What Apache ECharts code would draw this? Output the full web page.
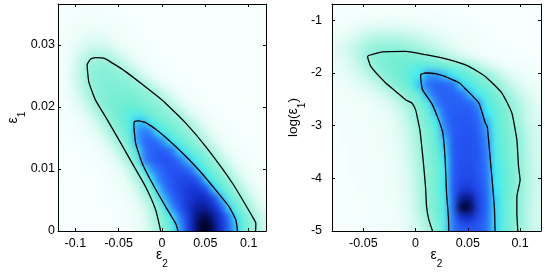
<!DOCTYPE html>
<html><head><meta charset="utf-8">
<script src="https://cdn.jsdelivr.net/npm/echarts@6/dist/echarts.min.js"></script>
<style>
html,body{margin:0;padding:0;background:#fff}
#wrap{position:relative;width:545px;height:273px;overflow:hidden}
#main{position:absolute;left:0;top:0;width:545px;height:273px}
.heat{position:absolute;filter:url(#smooth)}
#heatL{left:58px;top:4px;width:208px;height:227px}
#heatR{left:332px;top:4px;width:209px;height:227px}
</style>
</head><body>
<svg width="0" height="0" style="position:absolute">
  <filter id="smooth" x="0" y="0" width="1" height="1" color-interpolation-filters="sRGB">
    <feGaussianBlur stdDeviation="3"/>
    <feComponentTransfer><feFuncA type="table" tableValues="1 1"/></feComponentTransfer>
  </filter>
</svg>
<div id="wrap">
  <div id="heatL" class="heat"></div>
  <div id="heatR" class="heat"></div>
  <div id="main"></div>
</div>
<script>
// ---------- data ----------
const leftXRange = [-0.12, 0.12];
const leftYRange = [0, 0.0366];
const rightXRange = [-0.08, 0.12];
const rightYRange = [-5, -0.69];

const leftXTicks = [-0.1, -0.05, 0, 0.05, 0.1];
const leftYTicks = [0, 0.01, 0.02, 0.03];
const rightXTicks = [-0.05, 0, 0.05, 0.1];
const rightYTicks = [-5, -4, -3, -2, -1];

// density levels (0 = none ... 10 = peak), rows from bottom to top, 30 columns (eps2 -0.12..0.12)
const leftDensity = [
[0,0,0,0,0,0,0,0.1,0.2,0.3,0.5,0.8,1.3,2.0,2.8,3.6,4.4,5.6,7.0,8.5,9.7,10,9.2,8.0,6.8,5.5,4.4,3.6,2.9,2.0],
[0,0,0,0,0,0,0,0.1,0.2,0.4,0.6,1.0,1.5,2.2,3.1,3.9,4.9,6.0,7.2,8.4,9.4,9.6,8.8,7.8,6.6,5.2,4.2,3.4,2.6,1.8],
[0,0,0,0,0,0,0,0.1,0.3,0.5,0.7,1.1,1.7,2.5,3.4,4.8,5.9,6.8,7.6,8.4,8.8,8.7,8.0,7.0,5.3,4.3,3.5,2.8,2.0,1.3],
[0,0,0,0,0,0,0.1,0.2,0.4,0.6,0.9,1.4,2.2,3.1,4.3,5.6,6.5,7.1,7.6,8.0,8.2,8.0,7.3,5.6,4.4,3.7,3.0,2.2,1.5,0.9],
[0,0,0,0,0,0,0.2,0.3,0.5,0.8,1.2,1.9,2.8,3.9,5.3,6.3,6.9,7.3,7.6,7.8,7.6,7.0,5.2,4.4,3.7,3.0,2.3,1.6,1.0,0.5],
[0,0,0,0,0,0.1,0.2,0.4,0.7,1.1,1.7,2.5,3.5,4.9,6.0,6.6,7.0,7.2,7.3,7.2,6.6,5.0,4.4,3.8,3.1,2.4,1.7,1.1,0.6,0.3],
[0,0,0,0,0.1,0.2,0.4,0.6,1.0,1.5,2.2,3.2,4.6,5.8,6.4,6.8,7.0,7.0,6.8,6.0,4.9,4.3,3.7,3.1,2.4,1.7,1.1,0.6,0.3,0.1],
[0,0,0,0.1,0.2,0.4,0.6,0.9,1.4,2.1,3.0,4.2,6.0,6.6,6.9,7.0,6.9,6.5,5.6,4.8,4.3,3.7,3.1,2.4,1.7,1.1,0.6,0.3,0.1,0],
[0,0,0.1,0.2,0.4,0.6,0.9,1.3,2.0,2.8,3.6,4.8,6.2,6.6,6.8,6.7,6.3,5.2,4.6,4.1,3.6,3.0,2.4,1.7,1.1,0.6,0.3,0.1,0,0],
[0,0.1,0.2,0.4,0.6,0.9,1.3,1.9,2.6,3.3,4.2,5.7,6.4,6.6,6.3,5.6,4.8,4.3,3.8,3.3,2.8,2.2,1.6,1.0,0.6,0.3,0.1,0,0,0],
[0.1,0.2,0.4,0.6,0.9,1.3,1.9,2.6,3.2,3.8,4.6,5.8,6.2,5.9,5.0,4.5,4.1,3.7,3.2,2.8,2.2,1.6,1.1,0.6,0.3,0.1,0,0,0,0],
[0.2,0.3,0.5,0.8,1.2,1.7,2.4,3.1,3.6,4.1,4.6,5.5,5.4,4.6,4.2,3.9,3.5,3.2,2.8,2.2,1.6,1.0,0.6,0.3,0.1,0,0,0,0,0],
[0.3,0.5,0.8,1.2,1.7,2.4,3.0,3.5,3.9,4.2,4.4,4.4,4.2,3.9,3.6,3.3,3.0,2.5,1.9,1.3,0.8,0.4,0.2,0.1,0,0,0,0,0,0],
[0.4,0.7,1.1,1.6,2.2,2.9,3.4,3.7,3.9,4.0,4.0,3.9,3.7,3.4,3.1,2.8,2.2,1.6,1.0,0.6,0.3,0.1,0,0,0,0,0,0,0,0],
[0.5,0.9,1.4,2.0,2.7,3.2,3.5,3.7,3.8,3.8,3.7,3.5,3.3,3.0,2.6,2.0,1.4,0.9,0.5,0.3,0.1,0,0,0,0,0,0,0,0,0],
[0.6,1.0,1.6,2.3,2.9,3.3,3.5,3.6,3.6,3.5,3.3,3.1,2.7,2.1,1.5,1.0,0.6,0.3,0.1,0,0,0,0,0,0,0,0,0,0,0],
[0.6,1.0,1.7,2.4,3.0,3.3,3.4,3.4,3.3,3.1,2.8,2.2,1.6,1.1,0.7,0.4,0.2,0.1,0,0,0,0,0,0,0,0,0,0,0,0],
[0.6,1.0,1.6,2.3,2.9,3.1,3.2,3.1,2.8,2.3,1.8,1.3,0.9,0.5,0.3,0.1,0,0,0,0,0,0,0,0,0,0,0,0,0,0],
[0.5,0.9,1.4,2.0,2.4,2.6,2.6,2.4,2.0,1.6,1.2,0.8,0.5,0.3,0.1,0,0,0,0,0,0,0,0,0,0,0,0,0,0,0],
[0.4,0.7,1.1,1.5,1.8,1.9,1.8,1.6,1.3,1.0,0.7,0.5,0.3,0.1,0,0,0,0,0,0,0,0,0,0,0,0,0,0,0,0],
[0.3,0.5,0.8,1.1,1.3,1.3,1.2,1.0,0.8,0.6,0.4,0.2,0.1,0,0,0,0,0,0,0,0,0,0,0,0,0,0,0,0,0],
[0.2,0.4,0.6,0.8,0.9,0.9,0.8,0.6,0.5,0.3,0.2,0.1,0,0,0,0,0,0,0,0,0,0,0,0,0,0,0,0,0,0],
[0.1,0.2,0.4,0.5,0.6,0.6,0.5,0.4,0.3,0.2,0.1,0,0,0,0,0,0,0,0,0,0,0,0,0,0,0,0,0,0,0],
[0.1,0.1,0.2,0.3,0.3,0.3,0.3,0.2,0.1,0.1,0,0,0,0,0,0,0,0,0,0,0,0,0,0,0,0,0,0,0,0]
];

// rows bottom to top (log eps1 -5..-0.69), 25 columns (eps2 -0.08..0.12)
const rightDensity = [
[0.1,0.1,0.2,0.2,0.3,0.4,0.5,0.7,1.0,1.4,2.0,2.7,3.4,4.4,6.2,6.9,7.0,6.9,6.4,5.2,4.3,3.7,3.0,2.3,1.7],
[0.1,0.1,0.2,0.2,0.3,0.4,0.5,0.7,1.0,1.5,2.2,3.0,3.7,4.5,6.3,8.0,8.2,7.2,6.5,5.2,4.3,3.7,3.0,2.3,1.7],
[0.1,0.1,0.2,0.2,0.3,0.4,0.5,0.8,1.1,1.6,2.4,3.2,3.8,4.6,6.5,9.8,9.6,7.5,6.6,5.2,4.3,3.7,3.0,2.3,1.7],
[0.1,0.1,0.2,0.2,0.3,0.4,0.6,0.8,1.1,1.6,2.4,3.2,3.8,4.7,6.6,8.8,9.0,7.4,6.6,5.2,4.3,3.7,3.0,2.3,1.7],
[0.1,0.2,0.2,0.3,0.3,0.4,0.6,0.8,1.2,1.7,2.5,3.3,3.9,4.8,6.8,7.6,7.7,7.1,6.5,5.0,4.3,3.8,3.1,2.4,1.8],
[0.1,0.2,0.2,0.3,0.4,0.5,0.6,0.9,1.2,1.7,2.5,3.3,3.9,4.8,6.8,7.2,7.3,7.0,6.4,4.9,4.3,3.8,3.1,2.4,1.8],
[0.1,0.2,0.3,0.3,0.4,0.5,0.7,0.9,1.3,1.8,2.6,3.3,3.9,4.8,6.8,7.1,7.2,6.9,6.3,4.8,4.3,3.8,3.1,2.4,1.8],
[0.2,0.2,0.3,0.3,0.4,0.5,0.7,1.0,1.4,1.9,2.7,3.4,4.0,4.9,6.8,7.0,7.1,6.9,6.2,4.7,4.2,3.7,3.0,2.3,1.7],
[0.2,0.2,0.3,0.4,0.5,0.6,0.8,1.1,1.5,2.0,2.8,3.5,4.1,5.2,6.8,7.0,7.1,6.9,6.1,4.6,4.1,3.6,3.0,2.3,1.7],
[0.2,0.3,0.3,0.4,0.5,0.6,0.8,1.1,1.5,2.1,2.9,3.6,4.2,5.4,6.8,7.0,7.0,6.8,6.0,4.6,4.1,3.6,3.0,2.3,1.7],
[0.2,0.3,0.4,0.4,0.5,0.7,0.9,1.2,1.6,2.2,3.0,3.7,4.3,5.8,6.8,6.9,7.0,6.7,5.8,4.5,4.0,3.5,2.9,2.2,1.6],
[0.3,0.3,0.4,0.5,0.6,0.8,1.0,1.3,1.8,2.4,3.2,3.9,4.7,6.2,6.8,6.9,6.9,6.6,5.6,4.4,3.9,3.3,2.7,2.0,1.5],
[0.3,0.4,0.5,0.6,0.7,0.9,1.1,1.5,2.0,2.7,3.4,4.1,5.3,6.5,6.8,6.8,6.8,6.4,5.0,4.3,3.8,3.2,2.6,1.9,1.4],
[0.4,0.5,0.6,0.7,0.9,1.1,1.4,1.8,2.4,3.1,3.8,4.5,6.0,6.6,6.7,6.7,6.6,5.8,4.6,4.1,3.6,3.0,2.4,1.8,1.3],
[0.5,0.6,0.8,1.0,1.2,1.5,1.9,2.5,3.1,3.7,4.3,5.7,6.5,6.7,6.6,6.4,5.5,4.7,4.3,3.8,3.2,2.6,2.0,1.5,1.1],
[0.7,0.9,1.1,1.4,1.7,2.2,2.8,3.4,3.9,4.4,5.4,6.4,6.6,6.6,6.3,5.2,4.6,4.2,3.8,3.2,2.6,2.0,1.5,1.1,0.8],
[0.9,1.1,1.4,1.8,2.3,2.9,3.4,3.8,4.1,4.4,5.0,5.8,5.8,5.4,4.8,4.4,4.1,3.7,3.1,2.5,1.9,1.4,1.0,0.7,0.5],
[1.0,1.3,1.7,2.2,2.8,3.3,3.7,3.9,4.1,4.2,4.3,4.3,4.2,4.0,3.7,3.4,2.9,2.3,1.8,1.3,0.9,0.6,0.4,0.3,0.2],
[1.2,1.5,1.9,2.5,3.1,3.5,3.7,3.8,3.8,3.7,3.5,3.2,2.9,2.5,2.1,1.7,1.3,0.9,0.6,0.4,0.3,0.2,0.1,0.1,0.1],
[1.2,1.6,2.0,2.4,2.8,3.0,3.1,3.1,3.0,2.8,2.6,2.3,2.0,1.6,1.3,1.0,0.7,0.5,0.3,0.2,0.1,0.1,0,0,0],
[0.9,1.2,1.5,1.9,2.2,2.4,2.4,2.4,2.3,2.1,1.9,1.7,1.4,1.2,0.9,0.7,0.5,0.3,0.2,0.1,0,0,0,0,0],
[0.5,0.7,1.0,1.2,1.4,1.5,1.5,1.5,1.4,1.3,1.2,1.0,0.9,0.7,0.6,0.4,0.3,0.2,0.1,0,0,0,0,0,0],
[0.2,0.3,0.4,0.5,0.6,0.7,0.7,0.7,0.6,0.6,0.5,0.5,0.4,0.3,0.2,0.2,0.1,0.1,0,0,0,0,0,0,0],
[0.1,0.1,0.2,0.2,0.2,0.2,0.2,0.2,0.2,0.2,0.2,0.1,0.1,0.1,0.1,0,0,0,0,0,0,0,0,0,0]
];

// contour lines [eps2, eps1]
const leftOuter = [[-0.0015,0],[-0.0073,0.0034],[-0.0188,0.0071],[-0.0343,0.0109],[-0.0497,0.0147],[-0.0651,0.0184],[-0.0767,0.0211],[-0.0844,0.0240],[-0.0864,0.0268],[-0.0825,0.0277],[-0.0767,0.02795],[-0.0659,0.0278],[-0.042,0.0257],[0.0003,0.0211],[0.0274,0.0174],[0.0505,0.0136],[0.0813,0.0077],[0.1044,0.0023],[0.1083,0.0012],[0.108,0]];
const leftInner = [[0.0185,0],[0.0158,0.0012],[0.0043,0.0039],[-0.0112,0.0077],[-0.0228,0.0109],[-0.0304,0.01415],[-0.0324,0.0170],[-0.0318,0.01765],[-0.0266,0.01774],[-0.0188,0.01747],[-0.0035,0.0160],[0.0197,0.0131],[0.0428,0.0098],[0.0621,0.0066],[0.0775,0.0039],[0.0852,0.0018],[0.0871,0]];
// contour lines [eps2, log(eps1)]
const rightOuter = [[0.0162,-5],[0.0127,-4.79],[0.0105,-4.54],[0.0095,-4.16],[0.0072,-3.65],[0.0045,-3.14],[0.0035,-3.02],[0.0,-2.70],[-0.0035,-2.57],[-0.0095,-2.51],[-0.019,-2.35],[-0.0286,-2.19],[-0.0429,-1.875],[-0.046,-1.685],[-0.0317,-1.60],[-0.0095,-1.59],[0.0095,-1.653],[0.0318,-1.748],[0.0509,-1.875],[0.0667,-2.065],[0.0826,-2.38],[0.0921,-2.76],[0.0969,-3.27],[0.0985,-3.78],[0.1,-4.03],[0.0969,-4.35],[0.0969,-4.66],[0.0978,-5]];
const rightInner = [[0.0318,-5],[0.0314,-4.73],[0.0296,-4.28],[0.0283,-3.65],[0.0261,-3.14],[0.0222,-2.90],[0.016,-2.6],[0.0067,-2.32],[0.0054,-2.19],[0.0048,-2.033],[0.0095,-2.0],[0.019,-2.014],[0.0318,-2.096],[0.042,-2.19],[0.0476,-2.30],[0.0605,-2.57],[0.0667,-2.95],[0.0686,-3.02],[0.0715,-3.65],[0.0735,-4.09],[0.0755,-4.6],[0.076,-5]];

const levelColors = ['#f7fffe','#ebfdf8','#c8f8eb','#94f2dc','#72edd1','#34eefc','#2f80ff','#2452f2','#1430cc','#081888','#000018'];

// ---------- charts ----------
const FONT = '"Liberation Sans", Arial, Helvetica, sans-serif';
function cells(grid) {
  const out = [];
  grid.forEach((row, r) => row.forEach((v, c) => out.push([c, r, v])));
  return out;
}
function idx(n) { return Array.from({length: n}, (_, i) => i); }

function heatChart(el, density) {
  const ch = echarts.init(document.getElementById(el), null, {renderer: 'canvas'});
  ch.setOption({
    animation: false,
    grid: {left: 0, right: 0, top: 0, bottom: 0, outerBoundsMode: 'none', containLabel: false},
    xAxis: {type: 'category', data: idx(density[0].length), show: false, boundaryGap: true},
    yAxis: {type: 'category', data: idx(density.length), show: false, boundaryGap: true},
    visualMap: {type: 'continuous', show: false, min: 0, max: 10, dimension: 2, inRange: {color: levelColors}},
    series: [{type: 'heatmap', data: cells(density), silent: true, emphasis: {disabled: true}, progressive: 0}]
  });
  return ch;
}
heatChart('heatL', leftDensity);
heatChart('heatR', rightDensity);

const nameRich = {
  n: {fontSize: 13.5, fontFamily: FONT, color: '#000', lineHeight: 16, verticalAlign: 'top'},
  e: {fontSize: 14, fontFamily: FONT, color: '#000', lineHeight: 16, verticalAlign: 'top'},
  s: {fontSize: 10, fontFamily: FONT, color: '#000', lineHeight: 12, verticalAlign: 'top', padding: [11, 0, 0, 0]}
};

function valAxis(gi, pos, range, ticks, labels, margin, name, gap, moveOverlap) {
  const a = {
    type: 'value', gridIndex: gi, position: pos, min: range[0], max: range[1],
    axisLine: {show: true, onZero: false, lineStyle: {color: '#000', width: 1}},
    axisTick: {show: true, inside: true, length: 3, customValues: ticks, lineStyle: {color: '#000'}},
    axisLabel: {show: labels, customValues: ticks, margin: margin, color: '#000', fontSize: 12.5, fontFamily: FONT},
    splitLine: {show: false}
  };
  if (name) {
    a.name = name; a.nameLocation = 'middle'; a.nameGap = gap;
    a.nameMoveOverlap = moveOverlap;
    a.nameTextStyle = {rich: nameRich, color: '#000'};
  }
  return a;
}
function contour(gi, data) {
  return {type: 'line', xAxisIndex: gi * 2, yAxisIndex: gi * 2, data: data, symbol: 'none', showSymbol: false,
    smooth: 0.15, lineStyle: {color: '#000', width: 1.3}, silent: true, z: 5, clip: true};
}

const chart = echarts.init(document.getElementById('main'), null, {renderer: 'canvas'});
chart.setOption({
  animation: false,
  backgroundColor: 'transparent',
  grid: [
    {left: 58, top: 4, width: 208, height: 227, outerBoundsMode: 'none', containLabel: false},
    {left: 332, top: 4, width: 209, height: 227, outerBoundsMode: 'none', containLabel: false}
  ],
  xAxis: [
    valAxis(0, 'bottom', leftXRange, leftXTicks, true, 6, '{e|ε}{s|2}', 17, false),
    valAxis(0, 'top', leftXRange, leftXTicks, false, 6),
    valAxis(1, 'bottom', rightXRange, rightXTicks, true, 6, '{e|ε}{s|2}', 17, false),
    valAxis(1, 'top', rightXRange, rightXTicks, false, 6)
  ],
  yAxis: [
    valAxis(0, 'left', leftYRange, leftYTicks, true, 3, '{e|ε}{s|1}', 27, true),
    valAxis(0, 'right', leftYRange, leftYTicks, false, 3),
    valAxis(1, 'left', rightYRange, rightYTicks, true, 10, '{n|log(}{e|ε}{s|1}{n|)}', 19, true),
    valAxis(1, 'right', rightYRange, rightYTicks, false, 3)
  ],
  series: [
    contour(0, leftOuter),
    contour(0, leftInner),
    contour(1, rightOuter),
    contour(1, rightInner)
  ]
});
</script>
</body></html>
